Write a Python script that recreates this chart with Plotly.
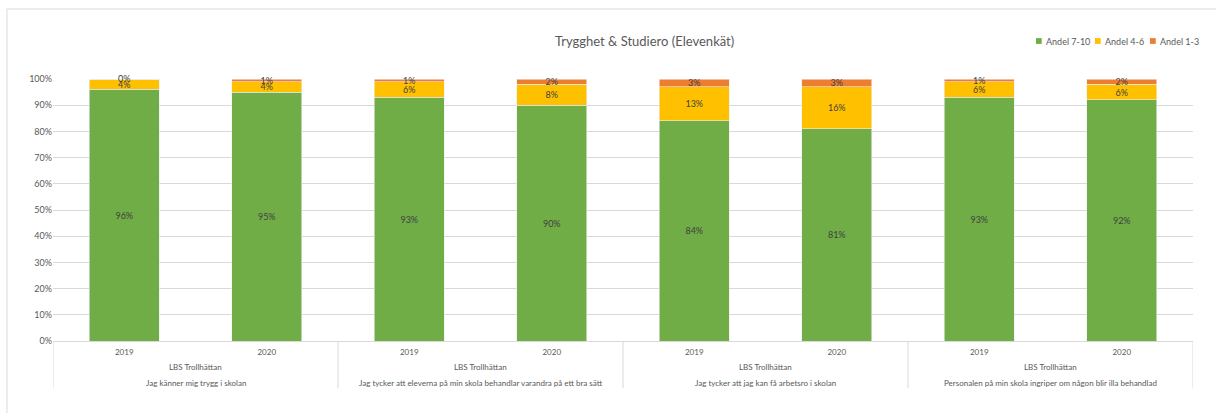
import plotly.graph_objects as go

questions = [
    "Jag känner mig trygg i skolan",
    "Jag tycker att eleverna på min skola behandlar varandra på ett bra sätt",
    "Jag tycker att jag kan få arbetsro i skolan",
    "Personalen på min skola ingriper om någon blir illa behandlad",
]
school = "LBS Trollhättan"
years = ["2019", "2020"]

andel_7_10 = [96, 95, 93, 90, 84, 81, 93, 92]
andel_4_6 = [4, 4, 6, 8, 13, 16, 6, 6]
andel_1_3 = [0, 1, 1, 2, 3, 3, 1, 2]

series = [
    ("Andel 7-10", andel_7_10, "#70AD47"),
    ("Andel 4-6", andel_4_6, "#FFC000"),
    ("Andel 1-3", andel_1_3, "#ED7D31"),
]

n = len(andel_7_10)
xs = list(range(n))
tick_text = [years[i % len(years)] for i in xs]

FONT = "Lato, 'Liberation Sans', sans-serif"
GRAY = "#595959"
LABEL = "#404040"

fig = go.Figure()
annotations = []
base = [0] * n
for name, vals, color in series:
    fig.add_trace(go.Bar(
        x=xs, y=vals, name=name,
        marker=dict(color=color, line=dict(color="#EDEDED", width=0.6)),
        text=[f"{v}%" for v in vals],
        textposition="inside", insidetextanchor="middle", textangle=0,
        textfont=dict(color=LABEL, size=9, family=FONT),
        hoverinfo="skip",
        cliponaxis=False,
    ))
    # zero-height segments still get their data label (as in the reference)
    for i, v in enumerate(vals):
        if v == 0:
            annotations.append(dict(x=xs[i], xref="x", y=base[i] + v / 2.0, yref="y",
                                    text=f"{v}%", showarrow=False, yanchor="middle",
                                    yshift=1,
                                    font=dict(size=9, color=LABEL, family=FONT)))
        base[i] += v

shapes = []
# outer frame
shapes.append(dict(type="rect", xref="paper", yref="paper",
                   x0=-0.0404, x1=1.03, y0=-0.35, y1=1.267,
                   line=dict(color="#D9D9D9", width=1), layer="below"))
# group dividers
ng = len(questions)
for g in range(ng + 1):
    xv = g * 2 - 0.5
    shapes.append(dict(type="line", xref="x", yref="paper",
                       x0=xv, x1=xv, y0=0, y1=-0.18,
                       line=dict(color="#D9D9D9", width=1)))

for g, q in enumerate(questions):
    cx = g * 2 + 0.5
    annotations.append(dict(x=cx, xref="x", y=-0.099, yref="paper", yanchor="middle",
                            text=school, showarrow=False,
                            font=dict(size=8, color=GRAY, family=FONT)))
    annotations.append(dict(x=cx, xref="x", y=-0.16, yref="paper", yanchor="middle",
                            text=q, showarrow=False,
                            font=dict(size=8, color=GRAY, family=FONT)))

# title
annotations.append(dict(x=0.519, xref="paper", y=1.145, yref="paper", yanchor="middle",
                        text="Trygghet & Studiero (Elevenkät)", showarrow=False,
                        font=dict(size=13, color=GRAY, family=FONT)))

# legend (square markers + text)
leg_sq = [0.8623, 0.9140, 0.9623]
sq_w = 0.005
for (name, vals, color), lx in zip(series, leg_sq):
    shapes.append(dict(type="rect", xref="paper", yref="paper",
                       x0=lx, x1=lx + sq_w, y0=1.134, y1=1.156,
                       fillcolor=color, line=dict(width=0)))
    annotations.append(dict(x=lx + sq_w + 0.002, xref="paper", y=1.145, yref="paper",
                            xanchor="left", yanchor="middle",
                            text=name, showarrow=False,
                            font=dict(size=9, color=GRAY, family=FONT)))

fig.update_layout(
    barmode="stack",
    bargap=0.51,
    width=1216, height=413,
    margin=dict(l=53, r=23, t=79, b=72),
    paper_bgcolor="white", plot_bgcolor="white",
    showlegend=False,
    hovermode=False,
    uniformtext=dict(minsize=9, mode="show"),
    shapes=shapes,
    annotations=annotations,
    font=dict(family=FONT, color=GRAY),
)
fig.update_xaxes(
    tickvals=xs, ticktext=tick_text, range=[-0.5, n - 0.5],
    showline=True, linecolor="#D9D9D9", linewidth=1,
    showgrid=False, ticks="", tickfont=dict(size=8, color=GRAY),
    ticklabelstandoff=3,
)
fig.update_yaxes(
    range=[0, 100], tickvals=list(range(0, 101, 10)),
    ticktext=[f"{v}%" for v in range(0, 101, 10)],
    showgrid=True, gridcolor="#D9D9D9", gridwidth=1,
    zeroline=False, ticks="", tickfont=dict(size=9, color=GRAY),
)

fig.write_html("out.html",
               config={"displayModeBar": False, "staticPlot": True},
               post_script="document.body.style.margin='0';document.body.style.overflow='hidden';")
